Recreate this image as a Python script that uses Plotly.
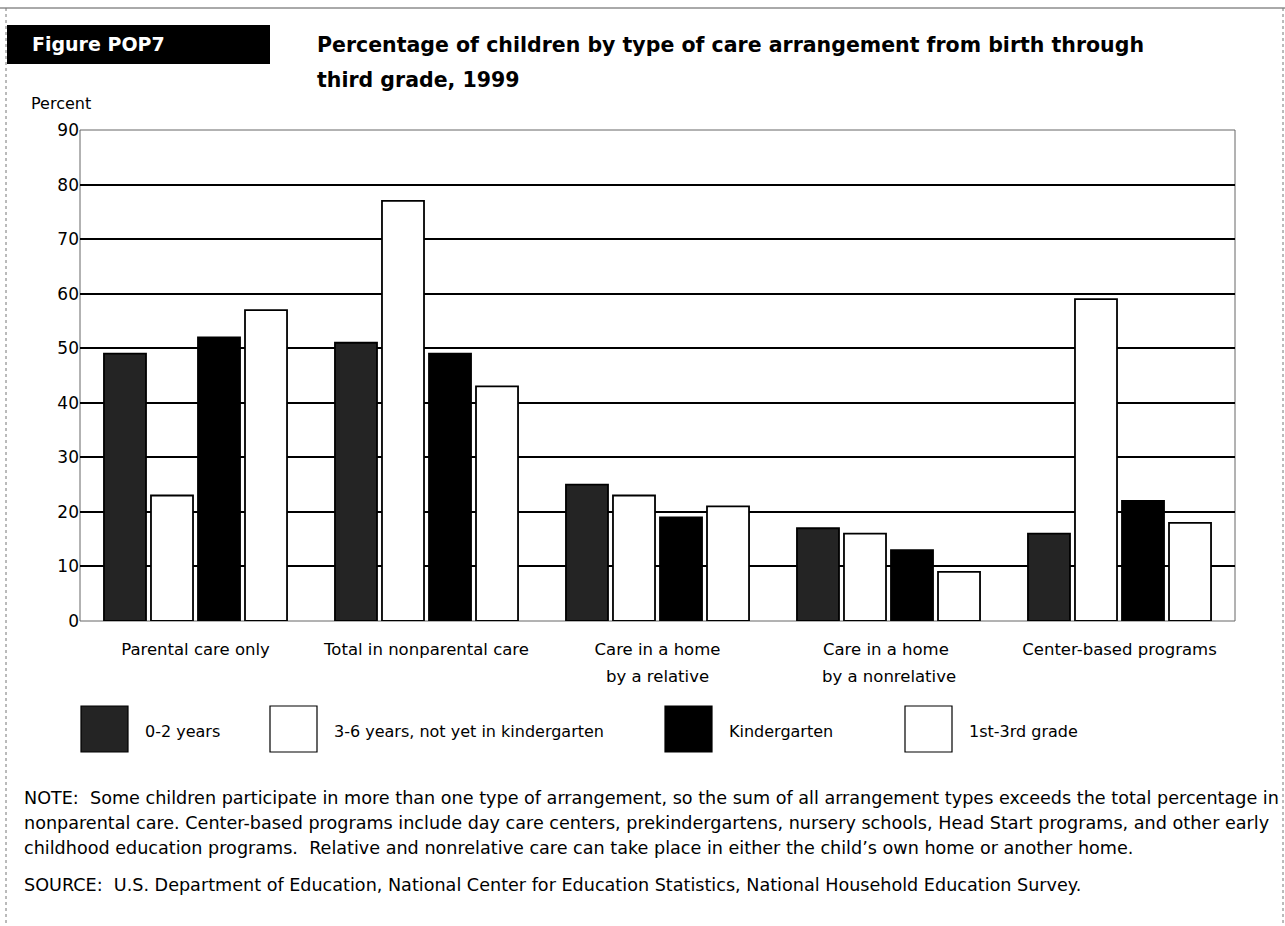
import plotly.graph_objects as go

# data
categories = ["Parental care only", "Total in nonparental care", "Care in a home",
              "Care in a home ", "Center-based programs"]
second_lines = ["", "", "by a relative", "by a nonrelative", ""]
age_0_2 = [49, 51, 25, 17, 16]
age_3_6 = [23, 77, 23, 16, 59]
kindergarten = [52, 49, 19, 13, 22]
grade_1_3 = [57, 43, 21, 9, 18]

series_names = ["0-2 years", "3-6 years, not yet in kindergarten", "Kindergarten", "1st-3rd grade"]
series_vals = [age_0_2, age_3_6, kindergarten, grade_1_3]
fills = ["#242424", "#ffffff", "#000000", "#ffffff"]

note_lines = [
    "NOTE:  Some children participate in more than one type of arrangement, so the sum of all arrangement types exceeds the total percentage in",
    "nonparental care. Center-based programs include day care centers, prekindergartens, nursery schools, Head Start programs, and other early",
    "childhood education programs.  Relative and nonrelative care can take place in either the child\u2019s own home or another home.",
]
source = "SOURCE:  U.S. Department of Education, National Center for Education Statistics, National Household Education Survey."

FONT = "DejaVu Sans"
W, H = 1285, 926

fig = go.Figure()
for name, vals, col in zip(series_names, series_vals, fills):
    fig.add_trace(go.Bar(x=categories, y=vals, name=name,
                         marker=dict(color=col, line=dict(color="black", width=1.8)),
                         showlegend=False))

def px(x):
    return x / W

def py(y):
    return 1 - y / H

fig.update_layout(
    width=W, height=H,
    margin=dict(l=0, r=0, t=0, b=0, pad=0, autoexpand=False),
    paper_bgcolor="white", plot_bgcolor="white",
    barmode="group", bargap=0.186, bargroupgap=0.106,
    font=dict(family=FONT, color="black", size=16),
    xaxis=dict(domain=[px(80), px(1235)], showgrid=False, ticks="", automargin=False,
               tickfont=dict(size=16.5), showline=False, ticklabelstandoff=16),
    yaxis=dict(domain=[py(621), py(130)], range=[0, 90], dtick=10, automargin=False,
               showgrid=True, gridcolor="black", gridwidth=1.8,
               tickfont=dict(size=17), ticks="", zeroline=False, showline=False),
)

shapes = []
# outer page frame
shapes.append(dict(type="line", xref="paper", yref="paper", x0=px(0), x1=px(1285), y0=py(8), y1=py(8),
                   line=dict(color="#555", width=1)))
shapes.append(dict(type="line", xref="paper", yref="paper", x0=px(6), x1=px(6), y0=py(8), y1=py(926),
                   line=dict(color="#777", width=1, dash="dot")))
shapes.append(dict(type="line", xref="paper", yref="paper", x0=px(1283), x1=px(1283), y0=py(8), y1=py(926),
                   line=dict(color="#777", width=1, dash="dot")))
# plot frame
shapes.append(dict(type="rect", xref="paper", yref="paper", x0=px(80), x1=px(1235), y0=py(621), y1=py(130),
                   line=dict(color="#666", width=1), layer="below"))
# figure label box
shapes.append(dict(type="rect", xref="paper", yref="paper", x0=px(7), x1=px(270), y0=py(64), y1=py(25),
                   fillcolor="black", line=dict(width=0)))

annotations = [
    dict(text="<b>Figure POP7</b>", x=px(30), y=py(44), xanchor="left", yanchor="middle",
         font=dict(size=19, color="white")),
    dict(text="<b>Percentage of children by type of care arrangement from birth through</b>",
         x=px(315), y=py(45), xanchor="left", yanchor="middle", font=dict(size=20.5)),
    dict(text="<b>third grade, 1999</b>",
         x=px(315), y=py(80), xanchor="left", yanchor="middle", font=dict(size=20.5)),
    dict(text="Percent", x=px(29), y=py(103), xanchor="left", yanchor="middle", font=dict(size=16)),
]

# second line of the two-line category labels
for cat, extra in zip(categories, second_lines):
    if extra:
        annotations.append(dict(text=extra, xref="x", x=cat, y=py(676), xanchor="center",
                                yanchor="middle", font=dict(size=16.5)))

# legend drawn as boxes + labels
legend_x = [81, 270, 665, 905]
for name, col, lx in zip(series_names, fills, legend_x):
    shapes.append(dict(type="rect", xref="paper", yref="paper", x0=px(lx), x1=px(lx + 47),
                       y0=py(752), y1=py(706), fillcolor=col, line=dict(color="black", width=1.2)))
    annotations.append(dict(text=name, x=px(lx + 62), y=py(731), xanchor="left", yanchor="middle",
                            font=dict(size=16)))

for i, line in enumerate(note_lines):
    annotations.append(dict(text=line, x=px(22), y=py(798 + 25 * i), xanchor="left", yanchor="middle",
                            font=dict(size=17.6)))
annotations.append(dict(text=source, x=px(22), y=py(885), xanchor="left", yanchor="middle",
                        font=dict(size=17.6)))

for a in annotations:
    a.setdefault("showarrow", False)
    a.setdefault("xref", "paper")
    a.setdefault("yref", "paper")

fig.update_layout(shapes=shapes, annotations=annotations)
fig.write_html("out.html", config={"displayModeBar": False},
               post_script="document.body.style.margin='0';document.body.style.overflow='hidden';")
